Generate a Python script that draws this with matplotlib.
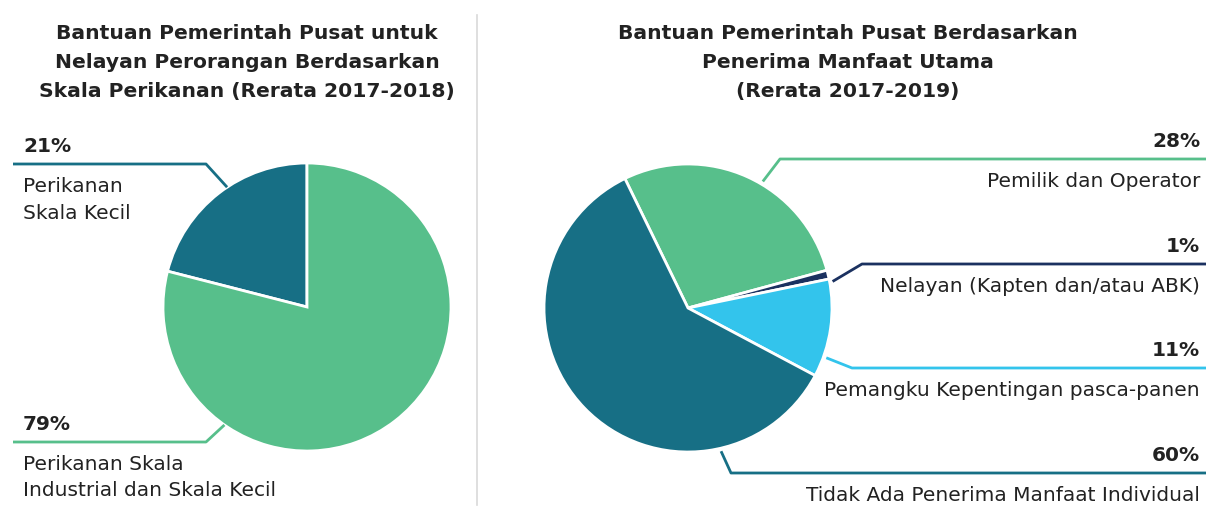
import numpy as np
import matplotlib.pyplot as plt

# data
left_title = ["Bantuan Pemerintah Pusat untuk", "Nelayan Perorangan Berdasarkan",
              "Skala Perikanan (Rerata 2017-2018)"]
left_labels = [["Perikanan", "Skala Kecil"], ["Perikanan Skala", "Industrial dan Skala Kecil"]]
left_values = [21, 79]

right_title = ["Bantuan Pemerintah Pusat Berdasarkan", "Penerima Manfaat Utama",
               "(Rerata 2017-2019)"]
right_labels = ["Pemilik dan Operator", "Nelayan (Kapten dan/atau ABK)",
                "Pemangku Kepentingan pasca-panen", "Tidak Ada Penerima Manfaat Individual"]
right_values = [28, 1, 11, 60]

GREEN = '#57bf8b'
TEAL = '#176f85'
NAVY = '#1b3160'
SKY = '#33c4ec'
INK = '#222222'

W, H = 1206, 509
plt.rcParams['font.family'] = ['DejaVu Sans']

fig = plt.figure(figsize=(W / 100, H / 100), dpi=100)
ax = fig.add_axes([0, 0, 1, 1])

def py(y):
    # pixel row -> data y
    return H - y

R = 144
lc = (307, py(307))
rc = (688, py(308))

ax.pie(left_values, colors=[TEAL, GREEN], startangle=90, counterclock=True,
       center=lc, radius=R, wedgeprops=dict(edgecolor='white', linewidth=2))
ax.pie(right_values, colors=[GREEN, NAVY, SKY, TEAL], startangle=116, counterclock=False,
       center=rc, radius=R, wedgeprops=dict(edgecolor='white', linewidth=2))

ax.set_xlim(0, W)
ax.set_ylim(0, H)
ax.set_aspect('auto')
ax.axis('off')

# divider
ax.plot([477, 477], [py(15), py(505)], color='#d9d9d9', lw=1.2)

# titles, one line at a time
for i, line in enumerate(left_title):
    ax.text(247, py(39 + 29 * i), line, ha='center', va='baseline', fontsize=14.6,
            fontweight='bold', color=INK)
for i, line in enumerate(right_title):
    ax.text(848, py(39 + 29 * i), line, ha='center', va='baseline', fontsize=14.6,
            fontweight='bold', color=INK)

def rim(center, ang, off=3):
    a = np.deg2rad(ang)
    return center[0] + (R + off) * np.cos(a), center[1] + (R + off) * np.sin(a)

# left callouts
left_call = [(123.7, 206, 164, TEAL), (235, 206, 442, GREEN)]
for (ang, ex, ey, col), lab, v in zip(left_call, left_labels, left_values):
    x0, y0 = rim(lc, ang, 0)
    ax.plot([x0, ex, 13], [y0, py(ey), py(ey)], color=col, lw=2, solid_capstyle='butt')
    ax.text(23, py(ey - 12), f"{v}%", ha='left', va='baseline', fontsize=14.5,
            fontweight='bold', color=INK)
    for j, line in enumerate(lab):
        ax.text(23, py(ey + 28 + 26.5 * j), line, ha='left', va='baseline',
                fontsize=14.5, color=INK)

# right callouts
right_call = [(59.4, 780, 159, GREEN), (10.4, 862, 264, NAVY),
              (-19.8, 852, 368, SKY), (-77, 731, 473, TEAL)]
for (ang, ex, ey, col), lab, v in zip(right_call, right_labels, right_values):
    x0, y0 = rim(rc, ang, 3)
    ax.plot([x0, ex, W], [y0, py(ey), py(ey)], color=col, lw=2, solid_capstyle='butt')
    ax.text(1200, py(ey - 12), f"{v}%", ha='right', va='baseline', fontsize=14.5,
            fontweight='bold', color=INK)
    ax.text(1200, py(ey + 28), lab, ha='right', va='baseline', fontsize=14.5,
            color=INK)

fig.savefig('out.png', dpi=100)
